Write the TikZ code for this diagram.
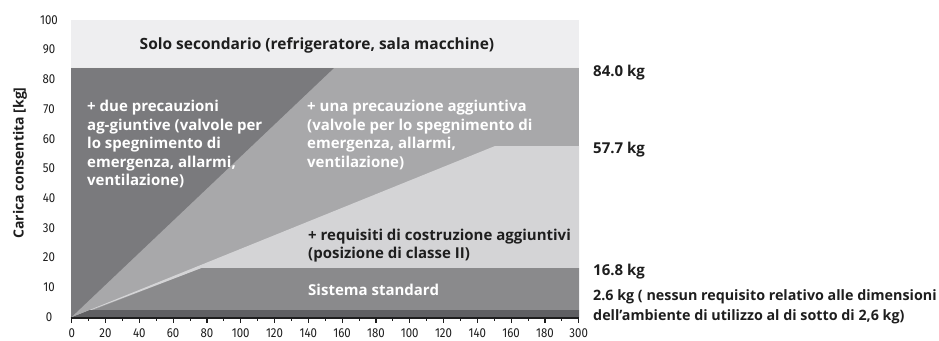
\documentclass[tikz,border=0pt]{standalone}
\usepackage{fontspec}
\setmainfont{Open Sans}
\newfontfamily\tickfont[FakeStretch=0.88]{Fira Sans}
\definecolor{cTop}{HTML}{EEEEF0}
\definecolor{cDark}{HTML}{7A7A7D}
\definecolor{cMid}{HTML}{A8A8AA}
\definecolor{cLight}{HTML}{D4D4D6}
\definecolor{cStd}{HTML}{8A8A8C}
\definecolor{cBand}{HTML}{5F5F62}
\definecolor{cText}{HTML}{1E1E1E}
\begin{document}
\begin{tikzpicture}[x=1pt,y=-1pt,
  lbl/.style={font=\bfseries\fontsize{15}{18.5}\selectfont, inner sep=0pt, align=left},
  wlbl/.style={lbl, text=white},
  dlbl/.style={lbl, text=cText},
  tick/.style={font=\tickfont\fontsize{13}{13}\selectfont, text=cText, inner sep=0pt},
  axisline/.style={draw=cText, line width=1.3pt}]
\useasboundingbox (0,0) rectangle (939,340);
% regions
\fill[cTop] (71,20) rectangle (579,67);
\fill[cMid] (71,67) rectangle (579,317.5);
\fill[cDark] (71,317.5) -- (71,67) -- (335,67) -- cycle;
\fill[cLight] (71,317.5) -- (495,146) -- (579,146) -- (579,268) -- (202,268) -- cycle;
\fill[cStd] (71,318.5) -- (202,268) -- (579,268) -- (579,310) -- (90,310) -- cycle;
\fill[cBand] (71,317.5) -- (90,310) -- (579,310) -- (579,317.5) -- cycle;
\draw[line width=0.8pt, draw=white!85!gray] (71,67.3) -- (579,67.3);
% x axis
\draw[axisline] (70.5,318) -- (579,318);
\foreach \i in {0,...,15} {
  \draw[draw=cText, line width=1.2pt] ({71.7+33.8*\i},318) -- ({71.7+33.8*\i},323);
}
\foreach \i in {0,...,14} {
  \draw[draw=cText, line width=0.9pt] ({71.7+33.8*\i+16.9},318) -- ({71.7+33.8*\i+16.9},320.5);
}
\foreach \lab [count=\i from 0] in {0,20,40,60,80,100,120,140,160,180,100,120,140,160,180,300} {
  \node[tick] (xl\i) at ({71.7+33.8*\i},333) {\lab};
}
% y axis labels
\foreach \v in {0,10,...,100} {
  \node[tick] (yl\v) at (49,{317-2.97*\v}) {\v};
}
\node[dlbl, font=\bfseries\fontsize{14}{16}\selectfont, rotate=90] (ytitle) at (20,163) {Carica consentita [kg]};
% region labels
\node[dlbl, font=\bfseries\fontsize{15.5}{18}\selectfont] (solo) at (317,45) {Solo secondario (refrigeratore, sala macchine)};
\node[wlbl, anchor=north west] (due) at (87,100) {+ due precauzioni\\ag-giuntive (valvole per\\lo spegnimento di\\emergenza, allarmi,\\ventilazione)};
\node[wlbl, anchor=north west] (una) at (307,100) {+ una precauzione aggiuntiva\\(valvole per lo spegnimento di\\emergenza, allarmi,\\ventilazione)};
\node[dlbl, anchor=north west] (req) at (308,228.5) {+ requisiti di costruzione aggiuntivi\\(posizione di classe II)};
\node[wlbl, anchor=west] (std) at (308,290) {Sistema standard};
% right labels
\node[dlbl, anchor=west] (r84) at (593,73) {84.0 kg};
\node[dlbl, anchor=west] (r57) at (593,150) {57.7 kg};
\node[dlbl, anchor=west] (r16) at (593,272) {16.8 kg};
\node[dlbl, font=\bfseries\fontsize{14.3}{20}\selectfont, anchor=north west] (r2) at (593,289) {2.6 kg ( nessun requisito relativo alle dimensioni\\dell’ambiente di utilizzo al di sotto di 2,6 kg)};
\end{tikzpicture}
\end{document}
